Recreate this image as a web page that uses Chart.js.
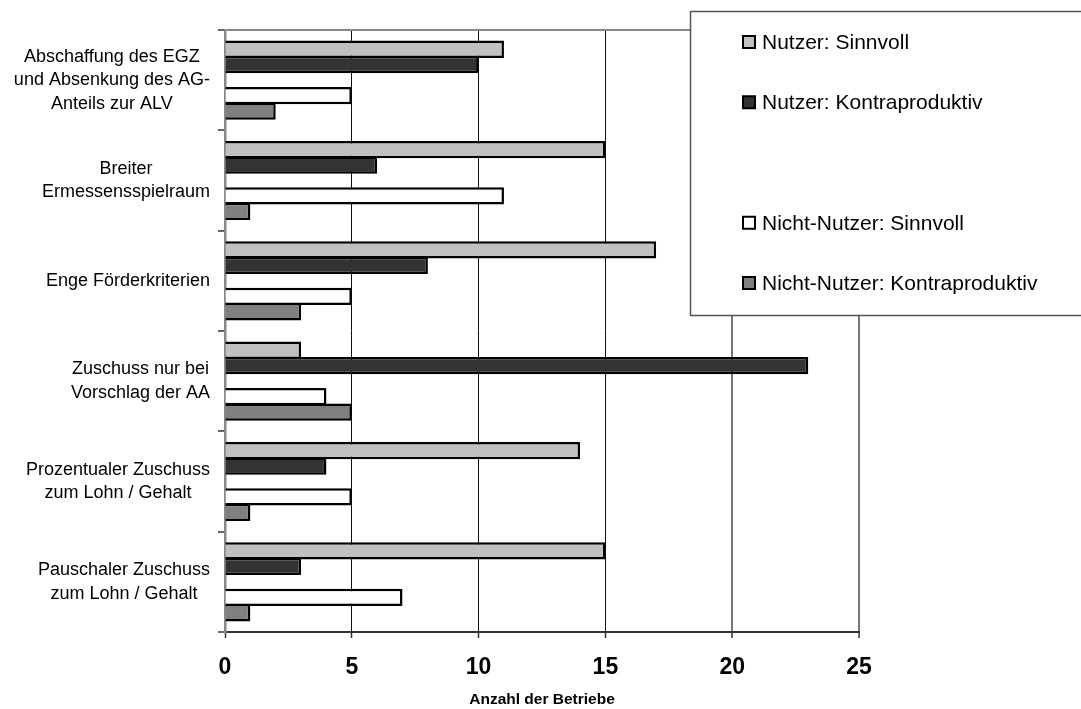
<!DOCTYPE html>
<html lang="de">
<head>
<meta charset="utf-8">
<title>Anzahl der Betriebe</title>
<script src="https://cdn.jsdelivr.net/npm/chart.js@4/dist/chart.umd.min.js"></script>
<style>
  html, body { margin: 0; padding: 0; background: #fff; }
  #wrap { width: 1081px; height: 709px; position: relative; }
</style>
</head>
<body>
<div id="wrap"><canvas id="chart"></canvas></div>
<script>
// Categories (multi-line labels)
const categories = [
  ['Abschaffung des EGZ', 'und Absenkung des AG-', 'Anteils zur ALV'],
  ['Breiter', 'Ermessensspielraum'],
  ['Enge Förderkriterien'],
  ['Zuschuss nur bei', 'Vorschlag der AA'],
  ['Prozentualer Zuschuss', 'zum Lohn / Gehalt'],
  ['Pauschaler Zuschuss', 'zum Lohn / Gehalt']
];

// Series values (number of firms)
const nutzerSinnvoll        = [11, 15, 17, 3, 14, 15];
const nutzerKontraproduktiv = [10, 6, 8, 23, 4, 3];
const leereReihe            = [null, null, null, null, null, null]; // unlabelled spacer series
const nichtNutzerSinnvoll   = [5, 11, 5, 4, 5, 7];
const nichtNutzerKontraproduktiv = [2, 1, 3, 5, 1, 1];

const seriesLabels = ['Nutzer: Sinnvoll', 'Nutzer: Kontraproduktiv', '', 'Nicht-Nutzer: Sinnvoll', 'Nicht-Nutzer: Kontraproduktiv'];
const seriesColors = ['#C0C0C0', '#333333', '#FFFFFF', '#FFFFFF', '#808080'];

const xTickValues = [0, 5, 10, 15, 20, 25];
const xTitle = 'Anzahl der Betriebe';

const FONT = '"Liberation Sans", Arial, Helvetica, sans-serif';

// Category labels: each label block is right-aligned to the axis, its lines centred within the block
const categoryLabels = {
  id: 'categoryLabels',
  afterDraw(chart) {
    const yScale = chart.scales.y;
    const ctx = chart.ctx;
    ctx.save();
    ctx.font = '18px ' + FONT;
    ctx.fillStyle = '#000';
    ctx.textAlign = 'center';
    ctx.textBaseline = 'middle';
    const right = chart.chartArea.left - 15;
    const lineH = 23.5;
    chart.data.labels.forEach((lines, i) => {
      const w = Math.max(...lines.map(l => ctx.measureText(l).width));
      const cx = right - w / 2;
      const cy = yScale.getPixelForValue(i);
      lines.forEach((l, k) => {
        ctx.fillText(l, cx, cy + (k - (lines.length - 1) / 2) * lineH);
      });
    });
    ctx.restore();
  }
};

// Boxed legend in the upper right, one row per series slot
const boxLegend = {
  id: 'boxLegend',
  afterDraw(chart) {
    const ctx = chart.ctx;
    ctx.save();
    ctx.fillStyle = '#fff';
    ctx.fillRect(690, 11, 400, 304);
    ctx.strokeStyle = '#555';
    ctx.lineWidth = 1.5;
    ctx.strokeRect(690.5, 11.5, 400, 304);
    ctx.font = '21px ' + FONT;
    ctx.textBaseline = 'middle';
    ctx.textAlign = 'left';
    chart.data.datasets.forEach((ds, i) => {
      if (!ds.label) return;
      const y = 43 + i * 60.25;
      ctx.fillStyle = ds.backgroundColor;
      ctx.fillRect(743, y - 7, 12, 12);
      ctx.strokeStyle = '#000';
      ctx.lineWidth = 2;
      ctx.strokeRect(743, y - 7, 12, 12);
      ctx.fillStyle = '#000';
      ctx.fillText(ds.label, 762, y);
    });
    ctx.restore();
  }
};

const seriesData = [nutzerSinnvoll, nutzerKontraproduktiv, leereReihe, nichtNutzerSinnvoll, nichtNutzerKontraproduktiv];

new Chart(document.getElementById('chart'), {
  type: 'bar',
  data: {
    labels: categories,
    datasets: seriesData.map((d, i) => ({
      label: seriesLabels[i],
      data: d,
      backgroundColor: seriesColors[i],
      borderColor: '#000',
      borderWidth: 2.5,
      borderSkipped: 'start',
      categoryPercentage: 0.77,
      barPercentage: 1.12
    }))
  },
  options: {
    indexAxis: 'y',
    responsive: true,
    maintainAspectRatio: false,
    animation: false,
    layout: { padding: { top: 30, right: 222, left: 0, bottom: 0 } },
    plugins: {
      legend: { display: false },
      tooltip: { enabled: false }
    },
    scales: {
      x: {
        min: 0,
        max: 25,
        afterBuildTicks(scale) { scale.ticks = xTickValues.map(v => ({ value: v })); },
        afterFit(scale) { scale.height = 77; },
        border: { display: true, color: '#333', width: 2 },
        grid: {
          drawOnChartArea: true,
          drawTicks: true,
          tickLength: 6,
          tickColor: '#333',
          tickWidth: 1.5,
          color: c => (c.tick && c.tick.value >= 20) ? '#777' : '#111',
          lineWidth: c => (c.tick && c.tick.value >= 20) ? 2 : 1
        },
        ticks: {
          color: '#000',
          padding: 16,
          font: { family: FONT, size: 23, weight: 'bold' }
        },
        title: {
          display: true,
          text: xTitle,
          color: '#000',
          padding: { top: 0, bottom: 0 },
          font: { family: FONT, size: 15.5, weight: 'bold' }
        }
      },
      y: {
        offset: true,
        afterFit(scale) { scale.width = 225; },
        border: { display: true, color: '#888', width: 2.5 },
        grid: {
          offset: true,
          drawOnChartArea: true,
          drawTicks: true,
          tickLength: 7,
          tickColor: '#333',
          tickWidth: 1.5,
          color: c => c.index === 0 ? '#888' : 'rgba(0,0,0,0)',
          lineWidth: 2
        },
        ticks: { display: false }
      }
    }
  },
  plugins: [categoryLabels, boxLegend]
});
</script>
</body>
</html>
